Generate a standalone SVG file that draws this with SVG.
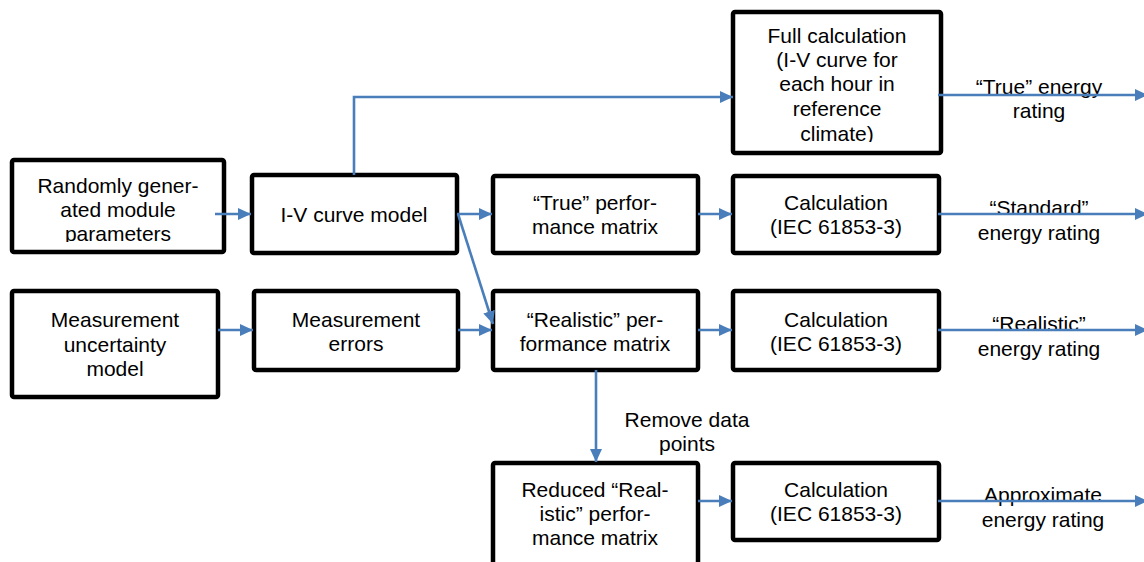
<svg xmlns="http://www.w3.org/2000/svg" width="1144" height="562" viewBox="0 0 1144 562">
<style>
.box{fill:#fff;stroke:#000;stroke-width:4.5}
.t{font-family:"Liberation Sans",Arial,sans-serif;font-size:21px;fill:#000;text-anchor:middle}
.c{stroke:#4a7ebb;stroke-width:2.6;fill:none}
.a{marker-end:url(#ah)}
</style>
<defs>
<marker id="ah" markerUnits="userSpaceOnUse" markerWidth="14" markerHeight="14" viewBox="0 0 14 14" refX="13" refY="7" orient="auto">
<path d="M0,1 L13,7 L0,13 Z" fill="#4a7ebb"/>
</marker>
<clipPath id="clipR"><rect x="12" y="160" width="212" height="82"/></clipPath>
<clipPath id="clipF"><rect x="732" y="10" width="210" height="132"/></clipPath>
</defs>
<g id="n-random">
<rect class="box" x="12" y="160" width="212" height="92" rx="2"/>
<g clip-path="url(#clipR)"><text class="t" x="118" y="193">Randomly gener-</text><text class="t" x="118" y="217">ated module</text><text class="t" x="118" y="241">parameters</text></g>
</g>
<g id="n-iv">
<rect class="box" x="252" y="175" width="205" height="78" rx="2"/>
<text class="t" x="354" y="222">I-V curve model</text>
</g>
<g id="n-mum">
<rect class="box" x="12" y="291" width="206" height="106" rx="2"/>
<text class="t" x="115" y="327">Measurement</text><text class="t" x="115" y="352">uncertainty</text><text class="t" x="115" y="376">model</text>
</g>
<g id="n-me">
<rect class="box" x="254" y="291" width="204" height="79" rx="2"/>
<text class="t" x="356" y="327">Measurement</text><text class="t" x="356" y="351">errors</text>
</g>
<g id="n-full">
<rect class="box" x="733" y="12" width="208" height="141" rx="2"/>
<g clip-path="url(#clipF)"><text class="t" x="837" y="43">Full calculation</text><text class="t" x="837" y="67">(I-V curve for</text><text class="t" x="837" y="91">each hour in</text><text class="t" x="837" y="116">reference</text><text class="t" x="837" y="141">climate)</text></g>
</g>
<g id="n-trueperf">
<rect class="box" x="493" y="176" width="205" height="77" rx="2"/>
<text class="t" x="595" y="210">“True” perfor-</text><text class="t" x="595" y="234">mance matrix</text>
</g>
<g id="n-calc1">
<rect class="box" x="733" y="176" width="206" height="77" rx="2"/>
<text class="t" x="836" y="210">Calculation</text><text class="t" x="836" y="234">(IEC 61853-3)</text>
</g>
<g id="n-realperf">
<rect class="box" x="493" y="291" width="205" height="79" rx="2"/>
<text class="t" x="595" y="327">“Realistic” per-</text><text class="t" x="595" y="351">formance matrix</text>
</g>
<g id="n-calc2">
<rect class="box" x="733" y="291" width="206" height="79" rx="2"/>
<text class="t" x="836" y="327">Calculation</text><text class="t" x="836" y="351">(IEC 61853-3)</text>
</g>
<g id="n-reduced">
<rect class="box" x="493" y="463" width="205" height="110" rx="2"/>
<text class="t" x="595" y="497">Reduced “Real-</text><text class="t" x="595" y="521">istic” perfor-</text><text class="t" x="595" y="545">mance matrix</text>
</g>
<g id="n-calc3">
<rect class="box" x="733" y="463" width="206" height="77" rx="2"/>
<text class="t" x="836" y="497">Calculation</text><text class="t" x="836" y="521">(IEC 61853-3)</text>
</g>
<g id="labels">
<text class="t" x="1039" y="94">“True” energy</text><text class="t" x="1039" y="118">rating</text>
<text class="t" x="1039" y="215">“Standard”</text><text class="t" x="1039" y="240">energy rating</text>
<text class="t" x="1039" y="331">“Realistic”</text><text class="t" x="1039" y="356">energy rating</text>
<text class="t" x="1043" y="502">Approximate</text><text class="t" x="1043" y="527">energy rating</text>
<text class="t" x="687" y="427">Remove data</text><text class="t" x="687" y="451">points</text>
</g>
<g id="connectors">
<line class="c a" x1="215" y1="214" x2="251" y2="214"/>
<polyline class="c a" points="354,175 354,97 733,97"/>
<line class="c a" x1="457" y1="214" x2="492" y2="214"/>
<line class="c a" x1="458" y1="214" x2="493" y2="324"/>
<line class="c a" x1="218" y1="330" x2="253" y2="330"/>
<line class="c a" x1="458" y1="330" x2="492" y2="330"/>
<line class="c a" x1="698" y1="214" x2="732" y2="214"/>
<line class="c a" x1="698" y1="330" x2="732" y2="330"/>
<line class="c a" x1="596" y1="370" x2="596" y2="462"/>
<line class="c a" x1="698" y1="501" x2="732" y2="501"/>
<line class="c a" x1="938" y1="95" x2="1148" y2="95"/>
<line class="c a" x1="938" y1="214" x2="1148" y2="214"/>
<line class="c a" x1="938" y1="330" x2="1148" y2="330"/>
<line class="c a" x1="938" y1="501" x2="1148" y2="501"/>
</g>
</svg>
